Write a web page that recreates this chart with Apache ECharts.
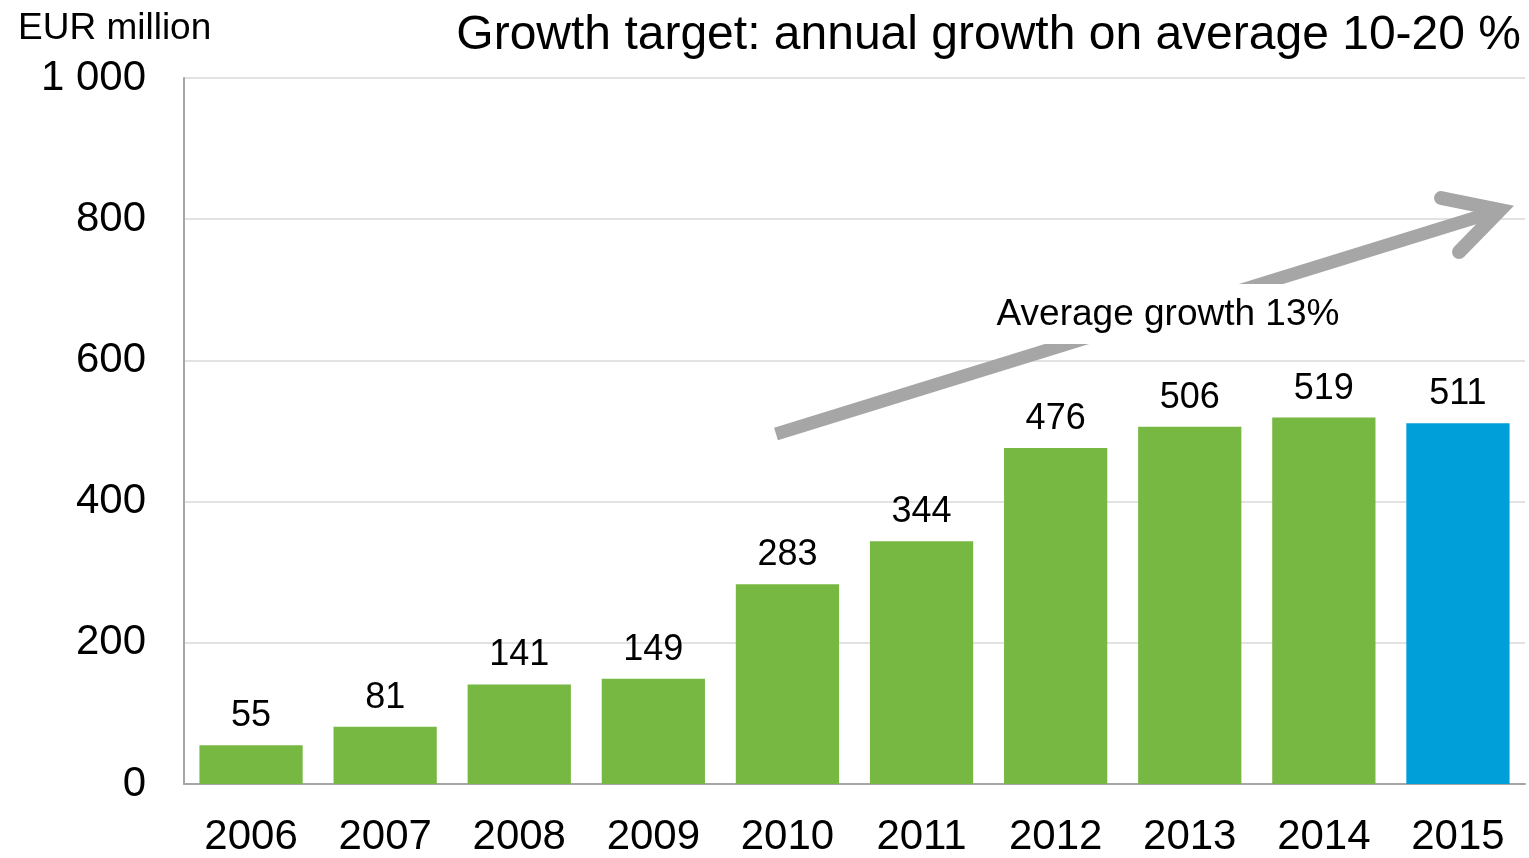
<!DOCTYPE html>
<html>
<head>
<meta charset="utf-8">
<script src="https://cdn.jsdelivr.net/npm/echarts@6/dist/echarts.min.js"></script>
<style>
  html, body { margin: 0; padding: 0; background: #ffffff; }
  #chart { width: 1529px; height: 858px; }
</style>
</head>
<body>
<div id="chart"></div>
<script>
// Revenue by year, EUR million
const years = ['2006', '2007', '2008', '2009', '2010', '2011', '2012', '2013', '2014', '2015'];
const revenue = [55, 81, 141, 149, 283, 344, 476, 506, 519, 511];
// The latest year is shown in a different colour
const highlightYear = '2015';
const yTicks = [0, 200, 400, 600, 800, 1000];

const GREEN = '#77b843';
const BLUE = '#009fda';
const FONT = '"Liberation Sans", Arial, sans-serif';

const chart = echarts.init(document.getElementById('chart'), null, { renderer: 'canvas' });

function fmtThousands(v) {
  return String(v).replace(/\B(?=(\d{3})+(?!\d))/g, ' ');
}

const option = {
  animation: false,
  backgroundColor: '#ffffff',
  textStyle: { fontFamily: FONT },
  title: [
    {
      text: 'Growth target: annual growth on average 10-20 %',
      right: 3, top: 7,
      textStyle: { fontFamily: FONT, fontSize: 48, fontWeight: 'normal', color: '#000' }
    },
    {
      text: 'EUR million',
      left: 13, top: 5,
      textStyle: { fontFamily: FONT, fontSize: 37, fontWeight: 'normal', color: '#000' }
    }
  ],
  grid: { left: 184, right: 4, top: 78, bottom: 72, containLabel: false },
  xAxis: {
    type: 'category',
    data: years,
    axisLine: { show: true, lineStyle: { color: '#a6a6a6', width: 2 } },
    axisTick: { show: false },
    axisLabel: { color: '#000', fontSize: 42, fontFamily: FONT, margin: 32 }
  },
  yAxis: {
    type: 'value',
    min: yTicks[0],
    max: yTicks[yTicks.length - 1],
    interval: yTicks[1] - yTicks[0],
    axisLine: { show: true, lineStyle: { color: '#a6a6a6', width: 2 } },
    axisTick: { show: false },
    splitLine: { show: true, lineStyle: { color: '#d9d9d9', width: 1.5 } },
    axisLabel: { color: '#000', fontSize: 42, fontFamily: FONT, margin: 38, formatter: fmtThousands }
  },
  series: [
    {
      type: 'bar',
      barCategoryGap: '23%',
      data: revenue.map((v, i) => ({
        value: v,
        itemStyle: { color: years[i] === highlightYear ? BLUE : GREEN }
      })),
      label: {
        show: true,
        position: 'top',
        distance: 11,
        color: '#000',
        fontSize: 36,
        fontFamily: FONT
      }
    }
  ]
};

chart.setOption(option);

// Trend arrow annotation with its caption
const ARROW = '#a6a6a6';
chart.setOption({
  graphic: [
    {
      type: 'line',
      shape: { x1: 776, y1: 434, x2: 1497, y2: 211 },
      style: { stroke: ARROW, lineWidth: 13, lineCap: 'butt' },
      z: 10
    },
    {
      type: 'polyline',
      shape: { points: [[1441, 198], [1500, 210], [1459, 252]] },
      style: { stroke: ARROW, lineWidth: 14, lineCap: 'round', lineJoin: 'miter', fill: null },
      z: 10
    },
    {
      type: 'rect',
      shape: { x: 985, y: 284, width: 370, height: 60 },
      style: { fill: '#ffffff' },
      z: 11
    },
    {
      type: 'text',
      x: 1168, y: 315,
      style: {
        text: 'Average growth 13%',
        fill: '#000',
        font: '37px ' + FONT,
        textAlign: 'center',
        textVerticalAlign: 'middle'
      },
      z: 12
    }
  ]
});
</script>
</body>
</html>
